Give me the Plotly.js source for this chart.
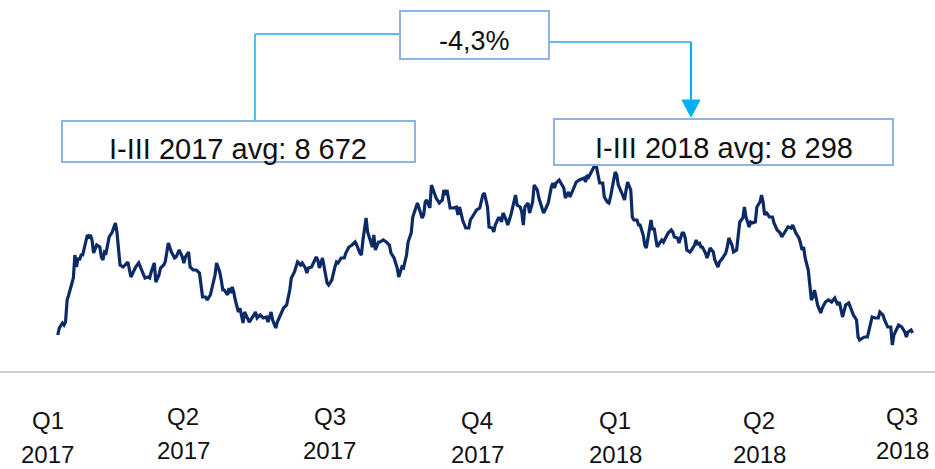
<!DOCTYPE html>
<html>
<head>
<meta charset="utf-8">
<script src="https://cdn.plot.ly/plotly-3.0.1.min.js"></script>
<style>html,body{margin:0;padding:0;background:#fff;}#chart{width:935px;height:469px;}</style>
</head>
<body>
<div id="chart"></div>
<script>
// ---- DATA ----
// day offsets since 2017-01-01
const dayOffsets = [
  5,6,8,9,10,11,12,14,15,16,
  17,18,19,20,21,24,25,26,27,28,
  30,32,33,34,35,36,38,40,41,42,
  43,45,47,50,52,55,57,59,61,63,
  64,65,67,68,70,71,73,74,76,78,
  80,81,83,85,86,87,89,90,92,94,
  96,97,98,100,101,103,104,106,107,109,
  110,111,112,114,115,116,117,118,119,121,
  122,124,125,126,128,131,132,133,135,137,
  139,140,142,143,145,146,148,150,152,154,
  155,157,159,161,162,164,165,166,168,171,
  172,173,175,176,178,179,181,183,184,185,
  187,189,190,192,194,196,197,199,200,201,
  203,204,206,207,208,209,211,212,214,216,
  218,219,221,223,224,226,227,229,230,232,
  233,234,236,237,239,240,241,242,244,245,
  247,248,250,252,253,254,255,256,257,259,
  261,262,263,264,265,267,269,270,272,274,
  276,277,278,279,281,282,284,285,286,288,
  289,290,291,293,294,296,298,299,300,302,
  303,304,305,307,308,310,311,313,314,316,
  317,318,320,322,323,324,325,327,328,330,
  331,333,334,335,337,338,340,343,344,345,
  346,348,349,350,351,352,353,355,356,358,
  359,360,362,363,364,365,367,369,370,371,
  373,374,375,377,378,379,381,382,383,384,
  386,387,388,389,390,392,393,394,396,397,
  399,400,401,403,404,406,407,408,409,411,
  412,414,415,416,417,418,419,421,422,423,
  424,426,427,429,430,432,434,435,436,438,
  439,441,442,443,445,446,447,449,450,451,
  453,454,456,457,458,459,460,462,464,465,
  467,469,470,472,474,476,477,479,481,482,
  483,484,485,487,488,489,490,491,492,493,
  495,496,498,500,502,504,506,507,509,511,
  513,515,516,518,519,520,522,523,525,527,
  528,530,532,533,535,536,538,540,541,542,
  544,545,547,549,550,551,553,554
];
const values = [
  8150,8220,8270,8250,8280,8500,8550,8670,8720,8950,
  8830,8920,8900,8950,8950,9150,9130,9150,9100,8970,
  9050,9030,8930,8900,8980,8970,9130,9180,9230,9270,
  9180,8850,8830,8880,8730,8830,8870,8800,8720,8730,
  8720,8780,8870,8680,8750,8820,8850,8880,9070,8980,
  8920,8930,9000,8930,8870,8930,8980,8830,8800,8800,
  8770,8650,8530,8530,8500,8550,8620,8750,8870,8780,
  8700,8600,8600,8550,8620,8570,8630,8580,8500,8380,
  8420,8270,8380,8350,8280,8350,8380,8320,8350,8320,
  8330,8280,8380,8300,8220,8280,8350,8420,8450,8600,
  8720,8780,8880,8850,8870,8820,8770,8820,8830,8930,
  8900,8820,8920,8820,8670,8650,8700,8830,8880,8870,
  8920,8920,8970,9030,9050,9080,9050,8970,8950,9100,
  9320,9180,9080,9030,9150,9000,9080,9080,9100,9080,
  9050,8970,8920,8820,8730,8830,8820,8950,9080,9170,
  9330,9370,9470,9420,9320,9350,9480,9500,9420,9650,
  9550,9520,9470,9500,9600,9550,9600,9500,9420,9420,
  9430,9350,9430,9370,9300,9220,9220,9300,9350,9400,
  9420,9480,9550,9570,9430,9230,9220,9180,9250,9320,
  9320,9280,9370,9300,9250,9350,9470,9550,9450,9430,
  9380,9250,9430,9470,9370,9480,9650,9600,9520,9420,
  9370,9400,9470,9630,9670,9620,9670,9700,9670,9620,
  9520,9580,9530,9570,9650,9680,9700,9720,9680,9750,
  9730,9780,9820,9850,9830,9750,9670,9670,9530,9480,
  9470,9530,9700,9780,9750,9650,9580,9500,9600,9680,
  9600,9330,9300,9300,9250,9250,9150,9050,9020,9100,
  9300,9200,9220,9120,9030,9080,9100,9080,9150,9170,
  9200,9180,9130,9120,9070,9170,9170,9120,9000,8980,
  9000,9050,9100,9050,9080,9030,9030,8970,8920,8980,
  9020,8980,8900,8830,8880,8920,8970,9030,9120,9050,
  8980,9000,9130,9280,9320,9430,9330,9230,9280,9270,
  9280,9430,9480,9550,9480,9350,9380,9330,9330,9270,
  9200,9170,9130,9180,9230,9220,9250,9170,9120,9070,
  9000,9030,8920,8800,8670,8500,8530,8600,8530,8450,
  8370,8420,8480,8500,8480,8520,8450,8480,8330,8450,
  8470,8380,8350,8300,8130,8100,8120,8130,8130,8250,
  8330,8320,8320,8380,8350,8300,8230,8230,8050,8150,
  8230,8250,8230,8180,8130,8180,8200,8170
];
const quarterLabels = ['Q1','Q2','Q3','Q4','Q1','Q2','Q3'];
const yearLabels = ['2017','2017','2017','2017','2018','2018','2018'];
const quarterDates = ['2017-01-01','2017-04-01','2017-07-01','2017-10-01','2018-01-01','2018-04-01','2018-07-01'];
const avgLabel2017 = 'I-III 2017 avg: 8 672';
const avgLabel2018 = 'I-III 2018 avg: 8 298';
const changeLabel = '-4,3%';

// ---- LAYOUT HELPERS ----
const W = 935, H = 469, PLOT_H = 371;
const BASE = Date.UTC(2017,0,1);
function dayToDate(d){ return new Date(BASE + d*864e5).toISOString().replace('T',' ').slice(0,19); }
function px(x){ return x / W; }
function py(y){ return 1 - y / PLOT_H; }

const FONT = 'Liberation Sans, Arial, sans-serif';
const boxColor = '#8DB4E6';
const connColor = '#55BFEF';
const arrowColor = '#00B0F0';

const xDates = dayOffsets.map(dayToDate);

const trace = {
  type: 'scatter', mode: 'lines',
  x: xDates, y: values,
  line: {color: '#0C2A66', width: 3.2},
  hoverinfo: 'skip'
};

function rect(x0,y0,x1,y1){
  return {type:'rect', xref:'paper', yref:'paper', x0:px(x0), x1:px(x1), y0:py(y1), y1:py(y0),
          line:{color:boxColor, width:2}, fillcolor:'#ffffff', layer:'above'};
}
function seg(x0,y0,x1,y1,c){
  return {type:'line', xref:'paper', yref:'paper', x0:px(x0), x1:px(x1), y0:py(y0), y1:py(y1),
          line:{color:c, width:2}, layer:'above'};
}

const shapes = [
  seg(400,34,255,34,connColor),
  seg(255,34,255,121,connColor),
  seg(549,42,691,42,connColor),
  seg(691,42,691,102,arrowColor),
  {type:'path', xref:'paper', yref:'paper', layer:'above',
   path:`M ${px(682)} ${py(100)} L ${px(700)} ${py(100)} L ${px(691)} ${py(117)} Z`,
   fillcolor: arrowColor, line:{color:arrowColor, width:1}},
  rect(62,121,415,162),
  rect(554,119,893,165),
  rect(400,11,549,59)
];

const annotations = [
  {xref:'paper', yref:'paper', x:px(238), y:py(149), text:avgLabel2017, showarrow:false,
   xanchor:'center', yanchor:'middle', font:{family:FONT, size:29, color:'#111'}},
  {xref:'paper', yref:'paper', x:px(724), y:py(148), text:avgLabel2018, showarrow:false,
   xanchor:'center', yanchor:'middle', font:{family:FONT, size:29, color:'#111'}},
  {xref:'paper', yref:'paper', x:px(474), y:py(41), text:changeLabel, showarrow:false,
   xanchor:'center', yanchor:'middle', font:{family:FONT, size:27, color:'#111'}}
];

const labelRaise = [0,4,4,0,0,0,4];
const labelXShift = [-2,-7,-2,2,-3,1,2];
quarterDates.forEach((d,i)=>{
  annotations.push({xref:'x', yref:'paper', x:d, y:py(420), text:quarterLabels[i], showarrow:false,
    xanchor:'center', yanchor:'middle', xshift:labelXShift[i], yshift:labelRaise[i], borderpad:0,
    font:{family:FONT, size:24, color:'#111'}});
  annotations.push({xref:'x', yref:'paper', x:d, y:py(454), text:yearLabels[i], showarrow:false,
    xanchor:'center', yanchor:'middle', xshift:labelXShift[i], yshift:labelRaise[i], borderpad:0,
    font:{family:FONT, size:24, color:'#111'}});
});

const layout = {
  width: W, height: H, autosize: false,
  margin: {l:0, r:0, t:0, b:H-PLOT_H, pad:0},
  paper_bgcolor:'#ffffff', plot_bgcolor:'#ffffff',
  showlegend:false,
  xaxis: {type:'date', range:[dayToDate(-32.1), dayToDate(568.4)], showgrid:false, zeroline:false,
          showticklabels:false, ticks:'', showline:true, linecolor:'#cfcfcf', linewidth:2, fixedrange:true},
  yaxis: {range:[11500-10*PLOT_H, 11500], visible:false, fixedrange:true},
  shapes: shapes,
  annotations: annotations
};

Plotly.newPlot('chart', [trace], layout, {staticPlot:true, displayModeBar:false});
</script>
</body>
</html>
